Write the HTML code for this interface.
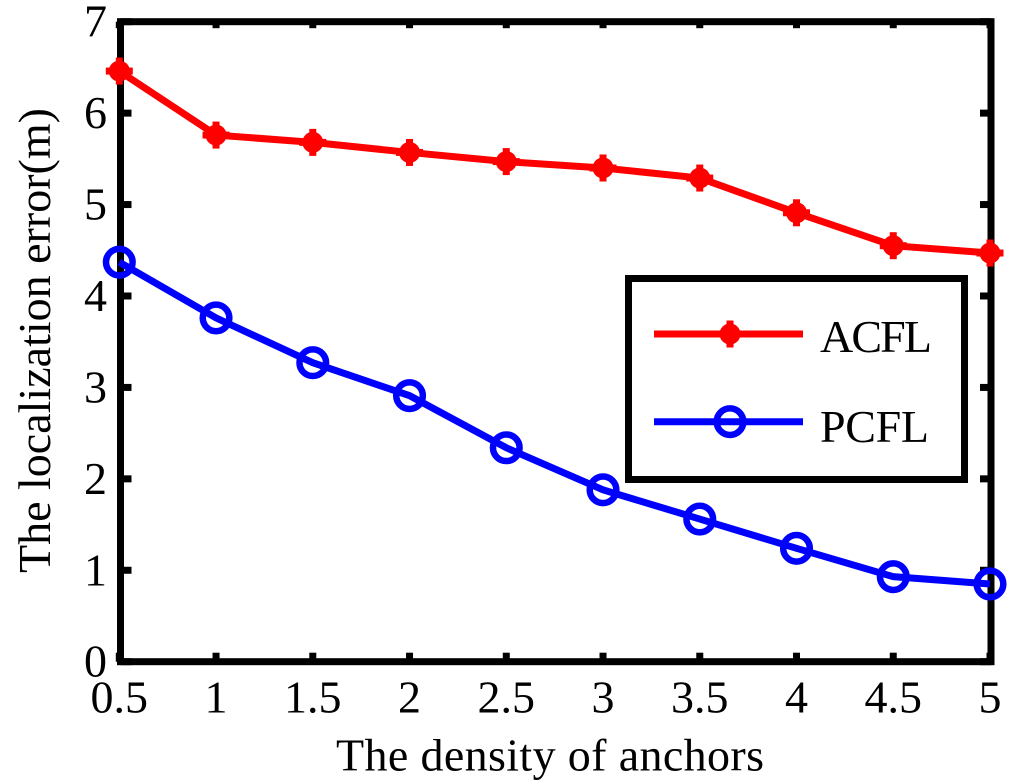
<!DOCTYPE html>
<html lang="en">
<head>
<meta charset="utf-8">
<title>The localization error vs. the density of anchors</title>
<style>
html,body{margin:0;padding:0;background:#fff;}
svg{display:block;}
text{font-family:"Liberation Serif","Times New Roman",serif;fill:#000;}
</style>
</head>
<body>
<svg id="chart" xmlns="http://www.w3.org/2000/svg" width="1024" height="783" viewBox="0 0 1024 783"></svg>
<script>
const categories = [0.5, 1, 1.5, 2, 2.5, 3, 3.5, 4, 4.5, 5];
const acflValues = [6.46, 5.76, 5.68, 5.57, 5.47, 5.40, 5.29, 4.91, 4.55, 4.47];
const pcflValues = [4.37, 3.76, 3.27, 2.91, 2.34, 1.88, 1.56, 1.24, 0.93, 0.85];
const xTickLabels = ["0.5", "1", "1.5", "2", "2.5", "3", "3.5", "4", "4.5", "5"];
const yTickLabels = ["0", "1", "2", "3", "4", "5", "6", "7"];

const NS = "http://www.w3.org/2000/svg";
const svg = document.getElementById("chart");
const plot = { left: 120.5, right: 991, top: 21.7, bottom: 661.7 };
const xRange = { start: 119.3, end: 990 };
const xMin = 0.5, xMax = 5, yMin = 0, yMax = 7;
function xScale(v) { return xRange.start + (v - xMin) / (xMax - xMin) * (xRange.end - xRange.start); }
function yScale(v) { return plot.bottom - (v - yMin) / (yMax - yMin) * (plot.bottom - plot.top); }

function make(tag, props, parent) {
  const el = document.createElementNS(NS, tag);
  for (const k in props) el.setAttribute(k, props[k]);
  (parent || svg).appendChild(el);
  return el;
}
function acflMarker(x, y, parent) {
  const m = make("g", {}, parent);
  
  
  make("circle", { cx: x, cy: y, r: 10.5, fill: "#ff0000" }, m);
  make("rect", { x: x - 13.5, y: y - 3.5, width: 27, height: 7, fill: "#ff0000" }, m);
  make("rect", { x: x - 3.5, y: y - 13.5, width: 7, height: 27, fill: "#ff0000" }, m);
  return m;
}
function pcflMarker(x, y, parent) {
  const m = make("circle", { cx: x, cy: y, r: 13.3, fill: "none", stroke: "#0000ff", "stroke-width": 6.5 }, parent);
  
  
  return m;
}

/* Ticks */
const tickGroup = make("g", { fill: "#000" });


categories.forEach(function (c) {
  const x = xScale(c);
  make("rect", { x: x - 3.5, y: plot.bottom - 9, width: 7, height: 9 }, tickGroup);
  make("rect", { x: x - 3.5, y: plot.top, width: 7, height: 6.5 }, tickGroup);
});
yTickLabels.forEach(function (t) {
  const y = yScale(Number(t));
  make("rect", { x: plot.left, y: y - 3.5, width: 11, height: 7 }, tickGroup);
  make("rect", { x: plot.right - 11, y: y - 3.5, width: 11, height: 7 }, tickGroup);
});

/* Axes frame */
const frame = make("rect", { x: plot.left, y: plot.top, width: plot.right - plot.left, height: plot.bottom - plot.top, fill: "none", stroke: "#000", "stroke-width": 7 });



/* Tick labels */
xTickLabels.forEach(function (t, i) {
  const el = make("text", { x: xScale(categories[i]), y: 712.5, "font-size": 46, "text-anchor": "middle" });
  
  
  el.textContent = t;
});
yTickLabels.forEach(function (t) {
  const el = make("text", { x: 107, y: yScale(Number(t)) + 15, "font-size": 46, "text-anchor": "end" });
  
  
  el.textContent = t;
});

/* Axis titles */
const xTitle = make("text", { x: 336, y: 770.5, "font-size": 46, textLength: 428, lengthAdjust: "spacing" });


xTitle.textContent = "The density of anchors";
const yTitle = make("text", { transform: "translate(50 573) rotate(-90)", x: 0, y: 0, "font-size": 46, textLength: 465, lengthAdjust: "spacing" });


yTitle.textContent = "The localization error(m)";

/* Series */
function points(values) {
  return values.map(function (v, i) { return xScale(categories[i]) + "," + yScale(v); }).join(" ");
}
const acflGroup = make("g", {});


const acflLine = make("polyline", { points: points(acflValues), fill: "none", stroke: "#ff0000", "stroke-width": 7 }, acflGroup);


acflValues.forEach(function (v, i) { acflMarker(xScale(categories[i]), yScale(v), acflGroup); });

const pcflGroup = make("g", {});


const pcflLine = make("polyline", { points: points(pcflValues), fill: "none", stroke: "#0000ff", "stroke-width": 7 }, pcflGroup);


pcflValues.forEach(function (v, i) { pcflMarker(xScale(categories[i]), yScale(v), pcflGroup); });

/* Legend */
const legend = make("g", {});


const legendBox = make("rect", { x: 628.5, y: 278.5, width: 336, height: 201, fill: "#fff", stroke: "#000", "stroke-width": 7 }, legend);



const acflEntry = make("g", {}, legend);


make("line", { x1: 654, x2: 803, y1: 334, y2: 334, stroke: "#ff0000", "stroke-width": 7 }, acflEntry);
acflMarker(730, 334, acflEntry);
const acflLabel = make("text", { x: 820, y: 352, "font-size": 46, textLength: 112, lengthAdjust: "spacing" }, acflEntry);
acflLabel.textContent = "ACFL";

const pcflEntry = make("g", {}, legend);


make("line", { x1: 654, x2: 803, y1: 421.7, y2: 421.7, stroke: "#0000ff", "stroke-width": 7 }, pcflEntry);
pcflMarker(730, 421.7, pcflEntry);
const pcflLabel = make("text", { x: 820, y: 442, "font-size": 46, textLength: 109, lengthAdjust: "spacing" }, pcflEntry);
pcflLabel.textContent = "PCFL";
</script>
</body>
</html>
